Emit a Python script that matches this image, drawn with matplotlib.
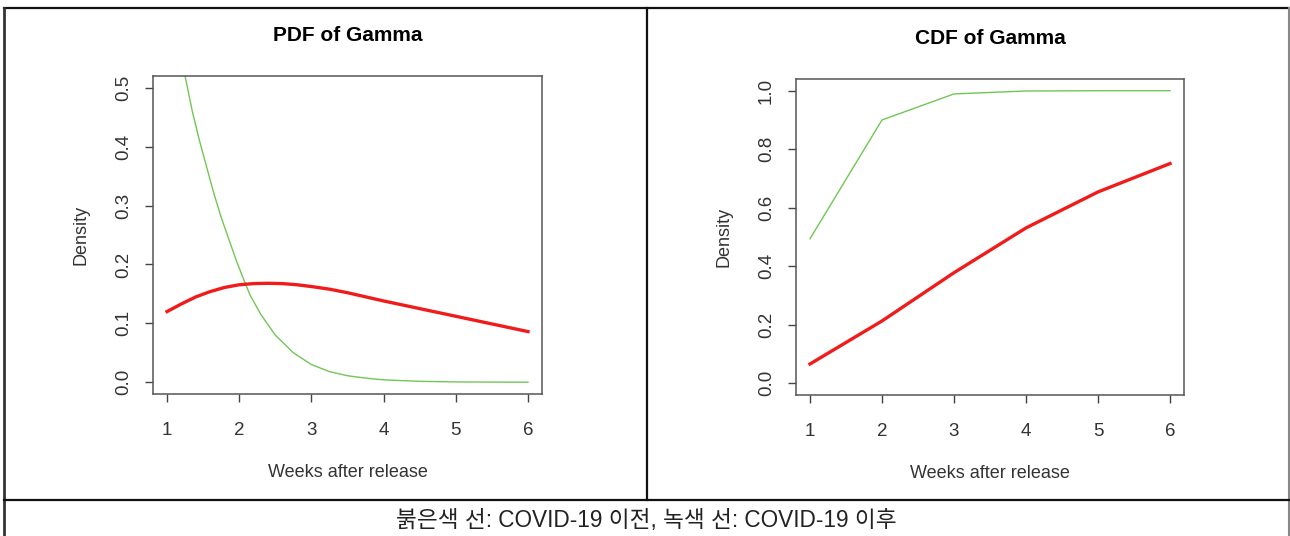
import matplotlib
matplotlib.use("Agg")
import matplotlib.pyplot as plt
from matplotlib.lines import Line2D

# PDF curves (weeks after release -> density)
pdf_before_x = [1.0, 1.2, 1.4, 1.6, 1.8, 2.0, 2.2, 2.4, 2.6, 2.8, 3.0,
                3.25, 3.5, 3.75, 4.0, 4.25, 4.5, 4.75, 5.0, 5.25, 5.5, 5.75, 6.0]
pdf_before_y = [0.120, 0.133, 0.145, 0.154, 0.161, 0.1655, 0.1675, 0.168, 0.1675, 0.1655, 0.1625,
                0.158, 0.152, 0.145, 0.138, 0.1315, 0.125, 0.1185, 0.112, 0.1055, 0.099, 0.0925, 0.086]
pdf_after_x = [1.0, 1.25, 1.35, 1.45, 1.55, 1.65, 1.75, 1.85, 1.95, 2.05, 2.15,
               2.3, 2.5, 2.75, 3.0, 3.25, 3.5, 3.75, 4.0, 4.5, 5.0, 6.0]
pdf_after_y = [0.700, 0.520, 0.460, 0.410, 0.365, 0.320, 0.280, 0.245, 0.210, 0.178, 0.148,
               0.115, 0.080, 0.050, 0.030, 0.018, 0.011, 0.007, 0.004, 0.0015, 0.0005, 0.0]

# CDF at weekly points
weeks = [1, 2, 3, 4, 5, 6]
cdf_before = [0.066, 0.213, 0.378, 0.531, 0.654, 0.751]
cdf_after = [0.494, 0.900, 0.989, 0.999, 1.000, 1.000]

x_ticks = [1, 2, 3, 4, 5, 6]
pdf_ticks = [0.0, 0.1, 0.2, 0.3, 0.4, 0.5]
cdf_ticks = [0.0, 0.2, 0.4, 0.6, 0.8, 1.0]

footer = "붉은색 선: COVID-19 이전, 녹색 선: COVID-19 이후"

RED = "#f01c1c"
GREEN = "#72c655"
W, H = 1290, 536

plt.rcParams['font.family'] = ['Liberation Sans', 'DejaVu Sans']

fig = plt.figure(figsize=(W / 100, H / 100), dpi=100)


def px_axes(x0, x1, ytop, ybot):
    return fig.add_axes([x0 / W, 1 - ybot / H, (x1 - x0) / W, (ybot - ytop) / H])


def style(ax, yticks, ylim):
    ax.set_xlim(0.8, 6.2)
    ax.set_ylim(ylim)
    ax.set_xticks(x_ticks)
    ax.set_xticklabels([str(v) for v in x_ticks])
    ax.set_yticks(yticks)
    ax.set_yticklabels(["%.1f" % v for v in yticks], rotation=90, va='center')
    for s in ax.spines.values():
        s.set_color("#555555")
        s.set_linewidth(1.1)
    ax.tick_params(direction='out', length=6, width=1, color="#444444",
                   labelsize=13.5, labelcolor="#333333")
    ax.tick_params(axis='x', pad=14)
    ax.tick_params(axis='y', pad=9)
    ax.set_xlabel("Weeks after release", fontsize=13, color="#333333", labelpad=18)
    ax.set_ylabel("Density", fontsize=13, color="#333333", labelpad=18)


ax1 = px_axes(152.6, 542.4, 76, 394)
ax1.plot(pdf_after_x, pdf_after_y, color=GREEN, lw=1.0)
ax1.plot(pdf_before_x, pdf_before_y, color=RED, lw=2.4)
style(ax1, pdf_ticks, (-0.02, 0.52))
ax1.set_title("PDF of Gamma", fontsize=15, fontweight='bold', pad=25)

ax2 = px_axes(795.6, 1184.4, 79, 395)
ax2.plot(weeks, cdf_after, color=GREEN, lw=1.0)
ax2.plot(weeks, cdf_before, color=RED, lw=2.4)
style(ax2, cdf_ticks, (-0.04, 1.04))
ax2.set_title("CDF of Gamma", fontsize=15, fontweight='bold', pad=25)

# table-like frame around the two panels
def fline(xs, ys, color="#111111", lw=1.6):
    fig.add_artist(Line2D([x / W for x in xs], [1 - y / H for y in ys],
                          color=color, lw=lw, transform=fig.transFigure))

fline([4, 1289], [8, 8])
fline([4, 4], [8, 536], color="#333333", lw=2)
fline([1288.5, 1288.5], [8, 536], color="#888888", lw=1.5)
fline([646.5, 646.5], [8, 500])
fline([4, 1289], [500, 500])

fig.text(646 / W, 1 - 520 / H, footer, ha='center', va='center', fontsize=16.3,
         color="#222222", family=['Liberation Sans', 'Noto Sans CJK KR'])

fig.savefig("out.png", dpi=100, facecolor='white')
